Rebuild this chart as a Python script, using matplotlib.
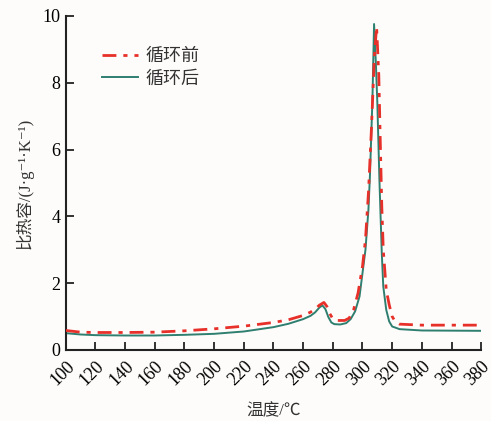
import matplotlib
matplotlib.use("Agg")
import matplotlib.pyplot as plt

plt.rcParams['font.family'] = ['Liberation Serif', 'Noto Sans CJK SC', 'DejaVu Sans']

# 循环前 (before cycling)
t_before = [100, 110, 120, 140, 160, 180, 200, 220, 240, 250, 260, 265, 268, 271, 274,
            276, 278, 280, 283, 288, 291, 294, 297, 300, 302, 304, 306, 308, 309.5,
            311, 312, 313, 314, 316, 318, 320, 322, 325, 340, 380]
cp_before = [0.58, 0.53, 0.52, 0.52, 0.53, 0.57, 0.63, 0.71, 0.82, 0.90, 1.03, 1.13, 1.22, 1.34, 1.42,
             1.30, 1.08, 0.93, 0.88, 0.88, 0.95, 1.20, 1.70, 2.50, 3.30, 4.70, 6.60, 8.80, 9.68,
             8.20, 6.20, 4.30, 3.00, 1.80, 1.35, 1.00, 0.85, 0.77, 0.74, 0.74]

# 循环后 (after cycling)
t_after = [100, 110, 120, 140, 160, 180, 200, 220, 240, 250, 260, 265, 268, 271, 273,
           275, 277, 279, 281, 285, 289, 292, 295, 298, 300, 302, 304, 305, 306.7, 307.8,
           309, 310, 311.4, 313, 314, 316, 318, 320, 325, 340, 380]
cp_after = [0.50, 0.46, 0.44, 0.43, 0.43, 0.45, 0.48, 0.55, 0.68, 0.78, 0.92, 1.02, 1.12, 1.27, 1.33,
            1.22, 0.98, 0.82, 0.77, 0.76, 0.80, 0.92, 1.15, 1.60, 2.30, 3.00, 4.20, 5.20, 7.50, 9.76,
            8.60, 7.40, 5.10, 2.90, 1.90, 1.20, 0.85, 0.70, 0.62, 0.58, 0.57]

xticks = list(range(100, 381, 20))
yticks = [0, 2, 4, 6, 8, 10]

fig = plt.figure(figsize=(4.91, 4.21), dpi=100, facecolor='#fdfcfa')
ax = fig.add_axes([0.134, 0.169, 0.846, 0.793])
ax.set_facecolor('#fdfcfa')

ax.plot(t_before, cp_before, color='#e8302a', lw=2.0, linestyle=(0, (5, 2.5, 1.5, 2.5)), label='循环前', zorder=3)
ax.plot(t_after, cp_after, color='#2f7f70', lw=1.4, linestyle='-', label='循环后', zorder=2)

ax.set_xlim(100, 380)
ax.set_ylim(0, 10)
ax.set_xticks(xticks)
ax.set_yticks(yticks)
ax.set_xticklabels([str(v) for v in xticks], rotation=45, ha='right', va='top', rotation_mode='anchor', fontsize=13)
ax.set_yticklabels([str(v) for v in yticks], fontsize=13)
ax.tick_params(direction='in', length=6, width=1.3, color='#222222', pad=4)
ax.tick_params(axis='x', pad=6)

for s in ['top', 'right']:
    ax.spines[s].set_visible(False)
for s in ['left', 'bottom']:
    ax.spines[s].set_linewidth(1.5)
    ax.spines[s].set_color('#222222')

ax.set_xlabel('温度/℃', fontsize=12, color='#333333', labelpad=10)
ax.set_ylabel('比热容/(J·g⁻¹·K⁻¹)', fontsize=12, color='#333333', labelpad=6)

leg = ax.legend(loc='upper left', bbox_to_anchor=(0.07, 0.925), frameon=False, fontsize=13,
                handlelength=2.0, handletextpad=0.4, labelspacing=0.3, borderaxespad=0)
for t in leg.get_texts():
    t.set_color('#333333')

fig.savefig('out.png', dpi=100, facecolor=fig.get_facecolor())
